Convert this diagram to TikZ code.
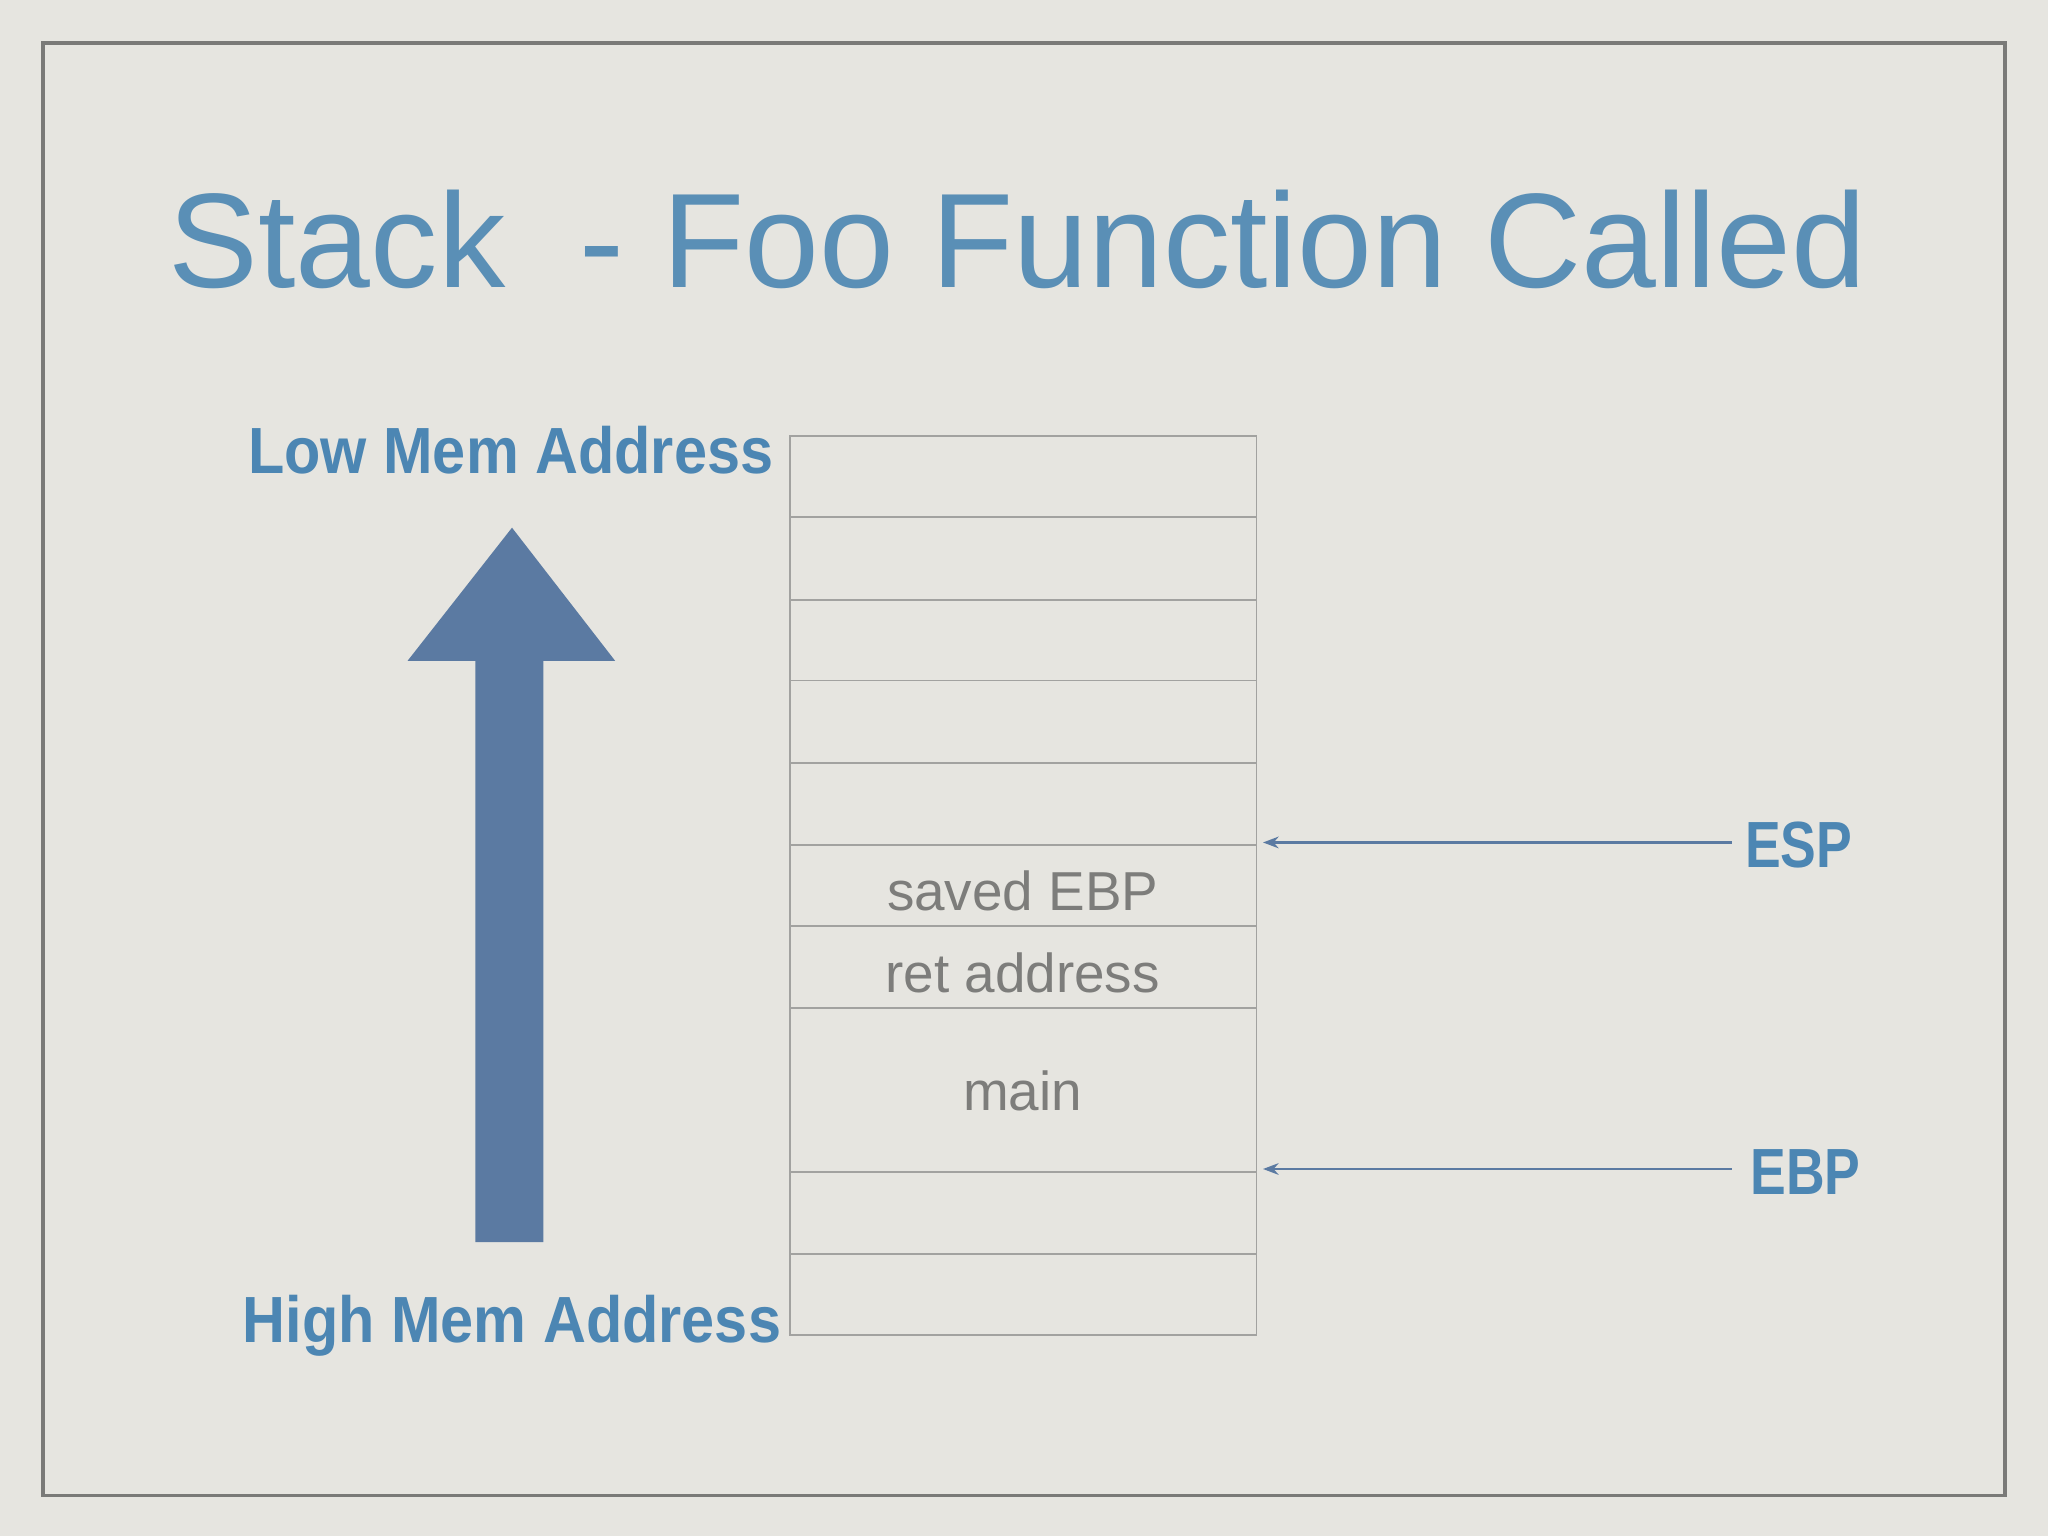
\documentclass[tikz,border=0pt]{standalone}
\usepackage{fontspec}
\setmainfont{Liberation Sans}
\usetikzlibrary{arrows.meta}
\definecolor{bg}{HTML}{E6E5E0}
\definecolor{frame}{HTML}{7A7A78}
\definecolor{titleblue}{HTML}{5A8FB6}
\definecolor{lblblue}{HTML}{4C86B3}
\definecolor{arrblue}{HTML}{5B7AA2}
\definecolor{cellgray}{HTML}{A2A2A0}
\definecolor{txtgray}{HTML}{7D7D7B}
\begin{document}
\begin{tikzpicture}[x=1pt,y=-1pt,
  lbl/.style={text=lblblue,font=\bfseries\fontsize{50}{54}\selectfont,inner sep=0},
  cell/.style={text=txtgray,font=\fontsize{42}{46}\selectfont,inner sep=0},
  ptr/.style={draw=arrblue,line width=1.6pt,-{Stealth[length=12pt,width=9pt]}}]
\fill[bg] (0,0) rectangle (1568,1176);
\useasboundingbox (0,0) rectangle (1568,1176);
\draw[frame,line width=3pt] (33,33) rectangle (1535,1145);
\node[text=titleblue,font=\fontsize{103}{110}\selectfont,inner sep=0] (title) at (779,183) {Stack\ \ - Foo Function Called};
\node[lbl] (low) at (391,345) {\scalebox{0.91}[1]{Low Mem Address}};
\node[lbl] (high) at (392,1015) {\scalebox{0.91}[1]{High Mem Address}};
\fill[arrblue] (364,951) -- (364,506) -- (312,506) -- (392,404) -- (471,506) -- (416,506) -- (416,951) -- cycle;
\draw[cellgray,line width=1.5pt] (605,334) rectangle (962,1022);
\foreach \y in {396,459,521,584,647,709,772,897,960}
  \draw[cellgray,line width=1.5pt] (605,\y) -- (962,\y);
\node[cell] (sebp) at (783,682) {saved EBP};
\node[cell] (ret) at (783,745) {ret address};
\node[cell] (main) at (783,835) {main};
\coordinate (espt) at (967,645);
\coordinate (ebpt) at (967,895);
\node[lbl,anchor=west] (esp) at (1336,647) {\scalebox{0.82}[1]{ESP}};
\node[lbl,anchor=west] (ebp) at (1340,897) {\scalebox{0.82}[1]{EBP}};
\draw[ptr] (1326,645) -- (espt);
\draw[ptr] (1326,895) -- (ebpt);
\end{tikzpicture}
\end{document}
